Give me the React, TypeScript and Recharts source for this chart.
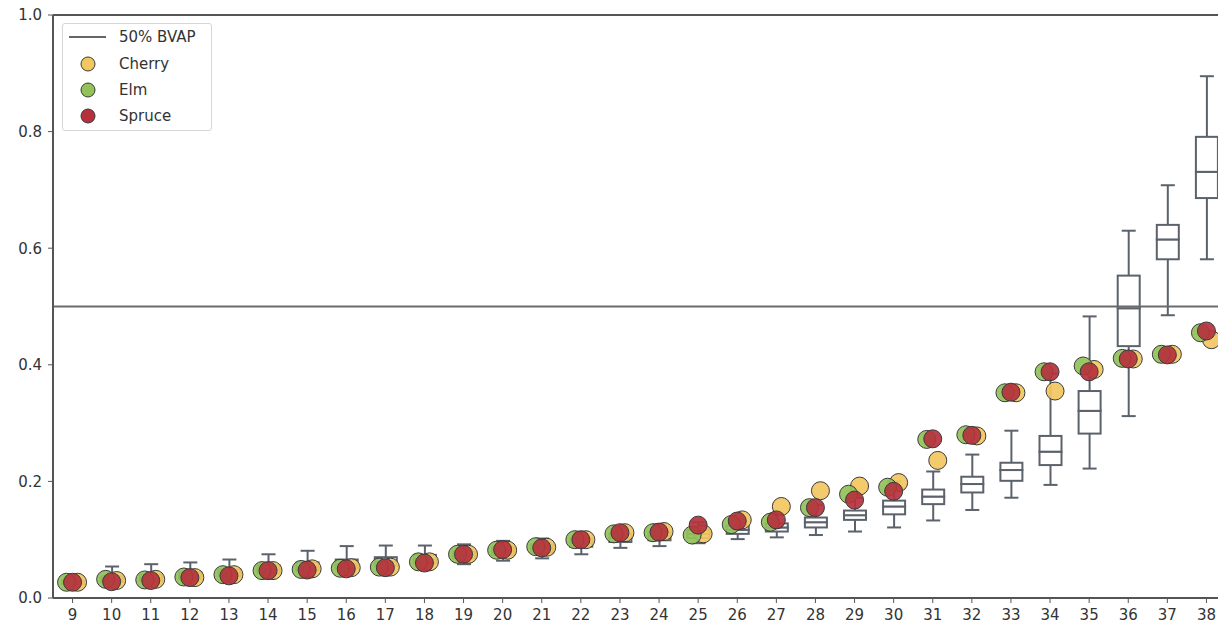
import React from "react";
import {
  ComposedChart, Bar, Scatter, XAxis, YAxis, ReferenceLine,
} from "recharts";

// district numbers along the x axis
const districts = [9, 10, 11, 12, 13, 14, 15, 16, 17, 18, 19, 20, 21, 22, 23, 24, 25, 26, 27, 28, 29, 30, 31, 32, 33, 34, 35, 36, 37, 38];

// ensemble box plot stats (BVAP share)
const whiskerLow = [0.02, 0.022, 0.022, 0.026, 0.03, 0.034, 0.036, 0.04, 0.044, 0.05, 0.058, 0.064, 0.068, 0.075, 0.086, 0.089, 0.094, 0.101, 0.104, 0.108, 0.114, 0.121, 0.133, 0.151, 0.172, 0.194, 0.222, 0.312, 0.485, 0.581];
const quart1 = [0.024, 0.028, 0.029, 0.033, 0.038, 0.043, 0.047, 0.051, 0.055, 0.06, 0.068, 0.074, 0.078, 0.088, 0.096, 0.099, 0.103, 0.11, 0.114, 0.121, 0.134, 0.1435, 0.161, 0.181, 0.201, 0.228, 0.282, 0.432, 0.581, 0.686];
const median = [0.027, 0.032, 0.034, 0.038, 0.043, 0.049, 0.053, 0.058, 0.062, 0.067, 0.074, 0.08, 0.085, 0.095, 0.103, 0.106, 0.11, 0.117, 0.121, 0.13, 0.142, 0.157, 0.174, 0.1955, 0.2195, 0.251, 0.321, 0.497, 0.615, 0.731];
const quart3 = [0.03, 0.037, 0.04, 0.044, 0.049, 0.056, 0.061, 0.066, 0.07, 0.074, 0.08, 0.087, 0.092, 0.102, 0.11, 0.114, 0.117, 0.124, 0.128, 0.138, 0.15, 0.167, 0.186, 0.208, 0.232, 0.278, 0.355, 0.553, 0.64, 0.791];
const whiskerHigh = [0.034, 0.054, 0.058, 0.061, 0.066, 0.075, 0.081, 0.089, 0.09, 0.09, 0.092, 0.098, 0.102, 0.113, 0.122, 0.126, 0.13, 0.137, 0.145, 0.16, 0.172, 0.2, 0.217, 0.246, 0.287, 0.385, 0.483, 0.63, 0.708, 0.895];

// plan values
const cherry = [0.027, 0.03, 0.032, 0.035, 0.04, 0.047, 0.05, 0.052, 0.053, 0.062, 0.075, 0.082, 0.087, 0.1, 0.112, 0.114, 0.11, 0.134, 0.157, 0.184, 0.192, 0.198, 0.236, 0.278, 0.352, 0.355, 0.392, 0.41, 0.418, 0.443];
const elm = [0.027, 0.032, 0.031, 0.036, 0.04, 0.047, 0.049, 0.051, 0.053, 0.062, 0.075, 0.082, 0.088, 0.1, 0.11, 0.112, 0.108, 0.126, 0.13, 0.155, 0.178, 0.19, 0.272, 0.28, 0.352, 0.388, 0.398, 0.411, 0.418, 0.455];
const spruce = [0.027, 0.028, 0.03, 0.035, 0.038, 0.047, 0.048, 0.05, 0.052, 0.06, 0.075, 0.083, 0.086, 0.1, 0.112, 0.113, 0.125, 0.132, 0.134, 0.155, 0.168, 0.183, 0.273, 0.279, 0.353, 0.388, 0.388, 0.41, 0.417, 0.458];

const yTicks = [0, 0.2, 0.4, 0.6, 0.8, 1.0];

const plans = [
  { key: "cherry", name: "Cherry", color: "#f2c75f", dx: 5 },
  { key: "elm", name: "Elm", color: "#93c15a", dx: -6 },
  { key: "spruce", name: "Spruce", color: "#b5323d", dx: 0 },
];

const boxColor = "#5b626b";
const axisColor = "#555";
const textColor = "#333";
const font = "DejaVu Sans, sans-serif";

const data = districts.map((d, i) => ({
  d,
  base: whiskerLow[i],
  wLo: quart1[i] - whiskerLow[i],
  bLo: median[i] - quart1[i],
  bHi: quart3[i] - median[i],
  wHi: whiskerHigh[i] - quart3[i],
  cherry: cherry[i],
  elm: elm[i],
  spruce: spruce[i],
}));

const Empty = () => <g />;

const LowWhisker = (p: any) => {
  const cx = p.x + p.width / 2;
  const bottom = p.y + p.height;
  return (
    <g stroke={boxColor} strokeWidth={2}>
      <line x1={cx} x2={cx} y1={p.y} y2={bottom} />
      <line x1={cx - 7} x2={cx + 7} y1={bottom} y2={bottom} />
    </g>
  );
};

const HighWhisker = (p: any) => {
  const cx = p.x + p.width / 2;
  return (
    <g stroke={boxColor} strokeWidth={2}>
      <line x1={cx} x2={cx} y1={p.y} y2={p.y + p.height} />
      <line x1={cx - 7} x2={cx + 7} y1={p.y} y2={p.y} />
    </g>
  );
};

const BoxPart = (p: any) => (
  <rect x={p.x} y={p.y} width={p.width} height={p.height} fill="#fff" stroke={boxColor} strokeWidth={2} />
);

const dot = (color: string, dx: number) => (p: any) => (
  <circle cx={p.cx + dx} cy={p.cy} r={9} fill={color} fillOpacity={0.92} stroke="#3a3a3a" strokeWidth={1} />
);

function LegendBox() {
  return (
    <div
      style={{
        position: "absolute", left: 62, top: 23, width: 148, height: 106,
        background: "rgba(255,255,255,0.85)", border: "1px solid #d6d6d6", borderRadius: 3,
        fontFamily: font, fontSize: 15, color: textColor,
      }}
    >
      <svg width={148} height={106} style={{ position: "absolute", left: 0, top: 0 }}>
        <line x1={6} x2={43} y1={13} y2={13} stroke="#666" strokeWidth={2} />
        <text x={56} y={18} fill={textColor} fontSize={15} fontFamily={font}>50% BVAP</text>
        {plans.map((s, i) => (
          <g key={s.key}>
            <circle cx={25} cy={40 + i * 26} r={7} fill={s.color} stroke="#3a3a3a" strokeWidth={1} />
            <text x={56} y={45 + i * 26} fill={textColor} fontSize={15} fontFamily={font}>{s.name}</text>
          </g>
        ))}
      </svg>
    </div>
  );
}

export default function App() {
  return (
    <div style={{ position: "fixed", left: 0, top: 0, width: 1218, height: 628, overflow: "hidden", background: "#fff" }}>
      <ComposedChart width={1230} height={628} data={data} margin={{ top: 15, right: 4, bottom: 0, left: 0 }}>
        <XAxis
          dataKey="d" type="category" height={30} tickSize={5} tickMargin={6}
          stroke={axisColor} strokeWidth={2}
          tick={{ fill: textColor, fontSize: 15, fontFamily: font }}
          tickLine={{ stroke: axisColor, strokeWidth: 1 }}
        />
        <YAxis
          type="number" domain={[0, 1]} ticks={yTicks} width={53} tickSize={5} tickMargin={6}
          tickFormatter={(v: number) => v.toFixed(1)}
          stroke={axisColor} strokeWidth={2}
          tick={{ fill: textColor, fontSize: 15, fontFamily: font }}
          tickLine={{ stroke: axisColor, strokeWidth: 1 }}
        />
        <ReferenceLine y={1} stroke={axisColor} strokeWidth={2} />
        <ReferenceLine y={0.5} stroke="#6a6a6a" strokeWidth={2} />
        <Bar dataKey="base" stackId="box" barSize={22} shape={Empty} isAnimationActive={false} />
        <Bar dataKey="wLo" stackId="box" barSize={22} shape={LowWhisker} isAnimationActive={false} />
        <Bar dataKey="bLo" stackId="box" barSize={22} shape={BoxPart} isAnimationActive={false} />
        <Bar dataKey="bHi" stackId="box" barSize={22} shape={BoxPart} isAnimationActive={false} />
        <Bar dataKey="wHi" stackId="box" barSize={22} shape={HighWhisker} isAnimationActive={false} />
        {plans.map((s) => (
          <Scatter key={s.key} dataKey={s.key} name={s.name} shape={dot(s.color, s.dx)} isAnimationActive={false} />
        ))}
      </ComposedChart>
      <LegendBox />
    </div>
  );
}
